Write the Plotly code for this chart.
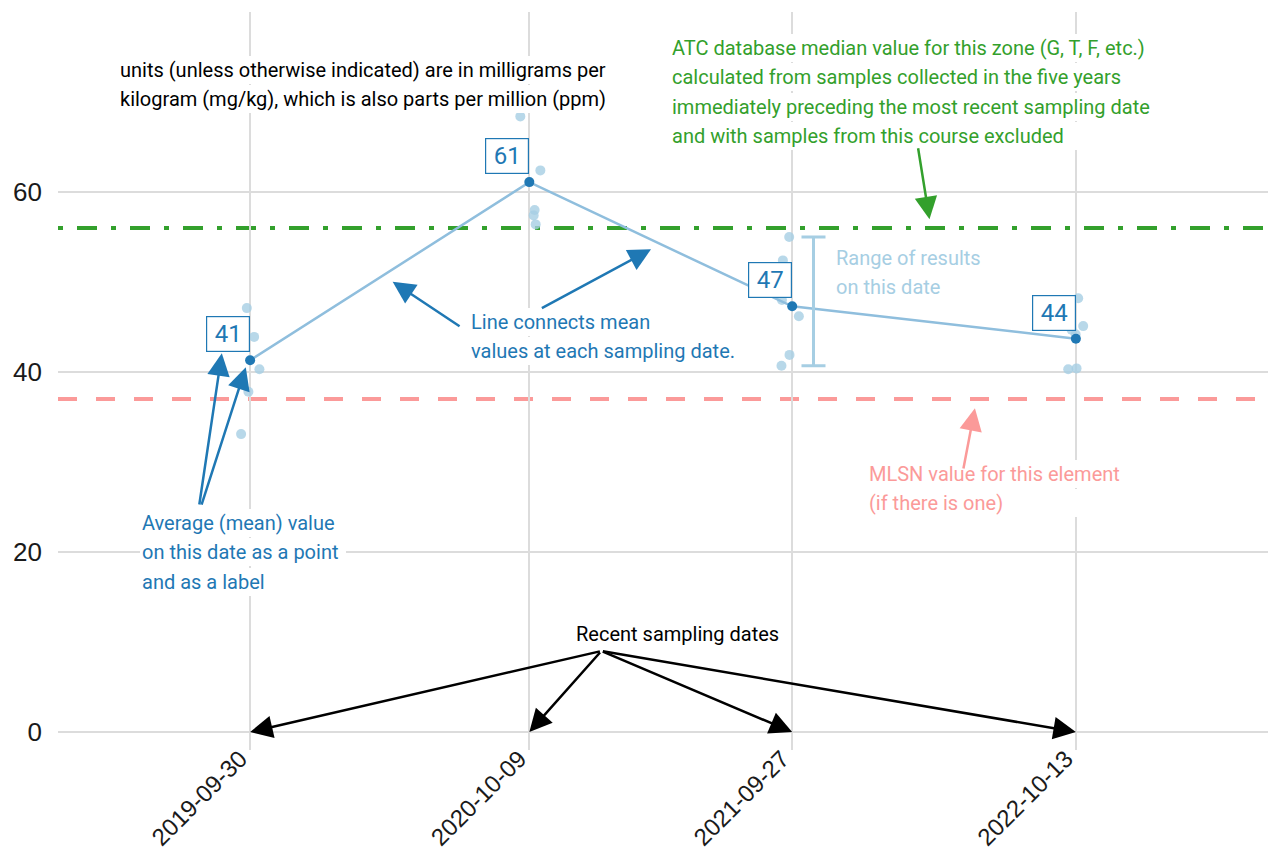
import pandas as pd
import plotly.graph_objects as go

# ---------------- data ----------------
sampling_dates = ["2019-09-30", "2020-10-09", "2021-09-27", "2022-10-13"]
mean_values = [41.3, 61.1, 47.3, 43.7]

sample_date_index = [0, 0, 0, 0, 0,
                     1, 1, 1, 1, 1,
                     2, 2, 2, 2, 2, 2,
                     3, 3, 3, 3, 3, 3]
sample_values = [47.1, 43.9, 40.3, 37.8, 33.1,
                 68.4, 62.4, 58.0, 57.4, 56.4,
                 55.0, 52.4, 48.0, 46.2, 41.9, 40.7,
                 48.2, 45.1, 44.7, 44.2, 40.3, 40.4]
sample_jitter_days = [-4.4, 5.4, 12.5, -2.3, -12.1,
                      -12.1, 14.8, 7.1, 5.8, 8.5,
                      -4.0, -12.5, -13.8, 9.0, -3.6, -14.4,
                      3.1, 9.8, -5.8, -0.4, -10.3, 0.9]

atc_median = 56
mlsn_value = 37
y_ticks = [0, 20, 40, 60]

# ---------------- colours ----------------
LIGHT_BLUE = "#a6cee3"
LINE_BLUE = "#8fbedd"
DARK_BLUE = "#1f78b4"
GREEN = "#33a02c"
PINK = "#fb9a99"
GRID = "#dcdcdc"

dates = pd.to_datetime(sampling_dates)


def at(i, days):
    return (dates[i] + pd.Timedelta(days=days)).strftime("%Y-%m-%d %H:%M:%S")


sample_x = [at(i, j) for i, j in zip(sample_date_index, sample_jitter_days)]
mean_x = [d.strftime("%Y-%m-%d") for d in dates]

fig = go.Figure()

# reference lines
fig.add_shape(type="line", xref="paper", x0=0, x1=1, yref="y", y0=atc_median, y1=atc_median,
              line=dict(color=GREEN, width=4, dash="5px,14px,20px,14px"), layer="below")
fig.add_shape(type="line", xref="paper", x0=0, x1=1, yref="y", y0=mlsn_value, y1=mlsn_value,
              line=dict(color=PINK, width=4, dash="19px,19px"), layer="below")

# individual samples
fig.add_trace(go.Scatter(x=sample_x, y=sample_values, mode="markers",
                         marker=dict(size=10, color=LIGHT_BLUE, opacity=0.8, line=dict(width=0)),
                         hoverinfo="y"))
# line connecting means
fig.add_trace(go.Scatter(x=mean_x, y=mean_values, mode="lines",
                         line=dict(color=LINE_BLUE, width=2.5), hoverinfo="skip"))
# means
fig.add_trace(go.Scatter(x=mean_x, y=mean_values, mode="markers",
                         marker=dict(size=10, color=DARK_BLUE), hoverinfo="y"))

# range of results on the third date
rng_vals = [v for i, v in zip(sample_date_index, sample_values) if i == 2]
lo, hi = min(rng_vals), max(rng_vals)
fig.add_trace(go.Scatter(x=[at(2, 28.6)], y=[lo], mode="markers",
                         marker=dict(size=1, opacity=0),
                         error_y=dict(type="data", symmetric=False, array=[hi - lo], arrayminus=[0],
                                      width=12, thickness=3, color=LIGHT_BLUE),
                         hoverinfo="skip"))

annotations = []
LINE_STEP = 29.3 / 9.0
TXT = dict(family="Roboto", size=20)


def text_block(lines, x, y_first, color, width, bg="white"):
    for k, line in enumerate(lines):
        annotations.append(dict(
            x=x, y=y_first - k * LINE_STEP, xref="x", yref="y", text=line,
            showarrow=False, xanchor="left", yanchor="middle", align="left",
            width=width, bgcolor=bg, borderpad=2, borderwidth=0,
            font=dict(TXT, color=color)))


text_block(["units (unless otherwise indicated) are in milligrams per",
            "kilogram (mg/kg), which is also parts per million (ppm)"],
           at(0, -178), 73.56, "#000000", 494)
text_block(["ATC database median value for this zone (G, T, F, etc.)",
            "calculated from samples collected in the five years",
            "immediately preceding the most recent sampling date",
            "and with samples from this course excluded"],
           at(2, -164.5), 76.0, GREEN, 490)
text_block(["Average (mean) value", "on this date as a point", "and as a label"],
           at(0, -148.4), 23.22, DARK_BLUE, 202)
text_block(["Line connects mean", "values at each sampling date."],
           at(1, -81.3), 45.56, DARK_BLUE, 268)
text_block(["Range of results", "on this date"],
           at(2, 55.7), 52.67, LIGHT_BLUE, 150, bg="rgba(0,0,0,0)")
text_block(["MLSN value for this element", "(if there is one)"],
           at(3, -280), 28.67, PINK, 258)
annotations.append(dict(x=at(1, 198.8), y=10.89, xref="x", yref="y", text="Recent sampling dates",
                        showarrow=False, xanchor="center", yanchor="middle",
                        bgcolor="white", borderpad=2, font=dict(TXT, color="#000000")))

# mean value labels
for d, m in zip(mean_x, mean_values):
    annotations.append(dict(x=d, y=m, xref="x", yref="y", text=str(int(round(m))),
                            showarrow=False, xanchor="right", yanchor="bottom", yshift=8,
                            bgcolor="white", bordercolor=DARK_BLUE, borderwidth=1.2, borderpad=3,
                            width=36, align="center",
                            font=dict(family="Roboto", size=24, color=DARK_BLUE)))


def arrow(tip_x, tip_y, tail_x, tail_y, color):
    annotations.append(dict(x=tip_x, y=tip_y, xref="x", yref="y",
                            ax=tail_x, ay=tail_y, axref="x", ayref="y",
                            text="", showarrow=True, arrowhead=2, arrowsize=1.8,
                            arrowwidth=2.5, arrowcolor=color, standoff=0, startstandoff=0))


arrow(at(0, -38), 42.08, at(0, -68.5), 25.11, DARK_BLUE)
arrow(at(0, -5.8), 40.52, at(0, -65.8), 25.11, DARK_BLUE)
arrow(at(1, -183.6), 50.03, at(1, -91.7), 44.97, DARK_BLUE)
arrow(at(1, 163.4), 53.63, at(1, 14.8), 47.0, DARK_BLUE)
arrow(at(2, 184.4), 56.97, at(2, 168.8), 65.03, GREEN)
arrow(at(3, -135.6), 35.97, at(3, -151.4), 29.11, PINK)
for d in mean_x:
    arrow(d, 0, at(1, 96.7), 9.0, "#000000")

TICKFONT = dict(family="Liberation Sans", size=26, color="#1a1a1a")
XTICKFONT = dict(family="Liberation Sans", size=24, color="#1a1a1a")

fig.update_layout(
    width=1268, height=853,
    margin=dict(l=58, r=0, t=12, b=103, autoexpand=False),
    plot_bgcolor="white", paper_bgcolor="white",
    showlegend=False,
    annotations=annotations,
    xaxis=dict(type="date", range=["2019-01-15", "2023-06-28"],
               tickvals=mean_x, ticktext=sampling_dates, tickangle=-45,
               showgrid=True, gridcolor=GRID, gridwidth=1.6, automargin=False,
               zeroline=False, showline=False, ticks="", tickfont=XTICKFONT,
               ticklabelstandoff=-11, ticklabelshift=-10),
    yaxis=dict(range=[-2, 80], tickvals=y_ticks, automargin=False,
               showgrid=True, gridcolor=GRID, gridwidth=1.6,
               zeroline=False, showline=False, ticks="", tickfont=TICKFONT,
               ticklabelstandoff=15),
)

fig.write_html("out.html", config={"displayModeBar": False},
               post_script="document.body.style.margin='0px';")
